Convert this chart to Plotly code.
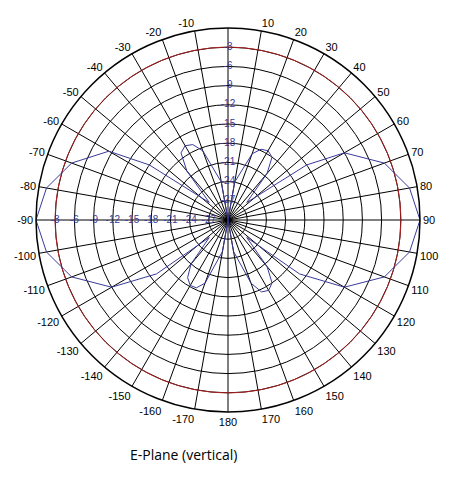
import plotly.graph_objects as go

# E-plane pattern (deg, dB)
theta = [0, 10, 20, 25, 30, 35, 40, 47, 55, 60, 70, 80, 90, 100, 110, 120, 127, 133, 140, 145, 150, 155, 160, 170, 180,
         190, 200, 205, 210, 215, 220, 227, 233, 240, 250, 260, 270, 280, 290, 300, 305, 313, 320, 325, 330, 335, 340, 350, 360]
gain = [-30, -24, -19, -17.8, -17.5, -18, -20.5, -26, -15, -9, -4, -1.2, 0, -1.2, -4, -9, -16, -26, -20.5, -18, -17.3, -17.6, -19.5, -25, -30,
        -25, -19.5, -18.3, -18.2, -19, -21, -26, -16, -9, -4, -1.2, 0, -1.2, -4, -8.5, -15, -26, -20, -17.2, -16.6, -17, -18.5, -24, -30]

ring_vals = [-27, -24, -21, -18, -15, -12, -9, -6, -3]
ring_text = [str(v) for v in ring_vals]
ang_vals = list(range(0, 360, 10))
ang_text = [""] + [str(a) for a in range(10, 190, 10)] + [str(a - 360) for a in range(190, 360, 10)]

fig = go.Figure()
fig.add_trace(go.Scatterpolar(r=[-3] * 361, theta=list(range(361)), mode="lines",
                              line=dict(color="#b02020", width=1), hoverinfo="skip"))
fig.add_trace(go.Scatterpolar(r=gain, theta=theta, mode="lines",
                              line=dict(color="#3a3a9a", width=1)))
# radial labels along the top and left spokes
for ang in [0, 270]:
    fig.add_trace(go.Scatterpolar(r=ring_vals, theta=[ang] * len(ring_vals), mode="text",
                                  text=ring_text, hoverinfo="skip",
                                  textfont=dict(color="#3a3a9a", size=10, family="Liberation Sans")))

fig.update_layout(
    width=476, height=500, showlegend=False,
    paper_bgcolor="white",
    margin=dict(l=28, r=64, t=20, b=96),
    polar=dict(
        bgcolor="white",
        angularaxis=dict(rotation=90, direction="clockwise", tickvals=ang_vals, ticktext=ang_text,
                         gridcolor="black", gridwidth=1, linecolor="black", linewidth=1.5,
                         ticks="", tickfont=dict(size=11, family="Liberation Sans", color="black")),
        radialaxis=dict(range=[-30, 0], tickvals=ring_vals, showticklabels=False, angle=90,
                        gridcolor="black", gridwidth=1, showline=False, ticks=""),
    ),
    annotations=[dict(text="E-Plane (vertical)", x=(120 - 28) / 384, y=(500 - 458 - 96) / 384,
                      xref="paper", yref="paper", xanchor="left",
                      showarrow=False, font=dict(size=14, family="Open Sans", color="black"))],
)
fig.write_html("out.html")
